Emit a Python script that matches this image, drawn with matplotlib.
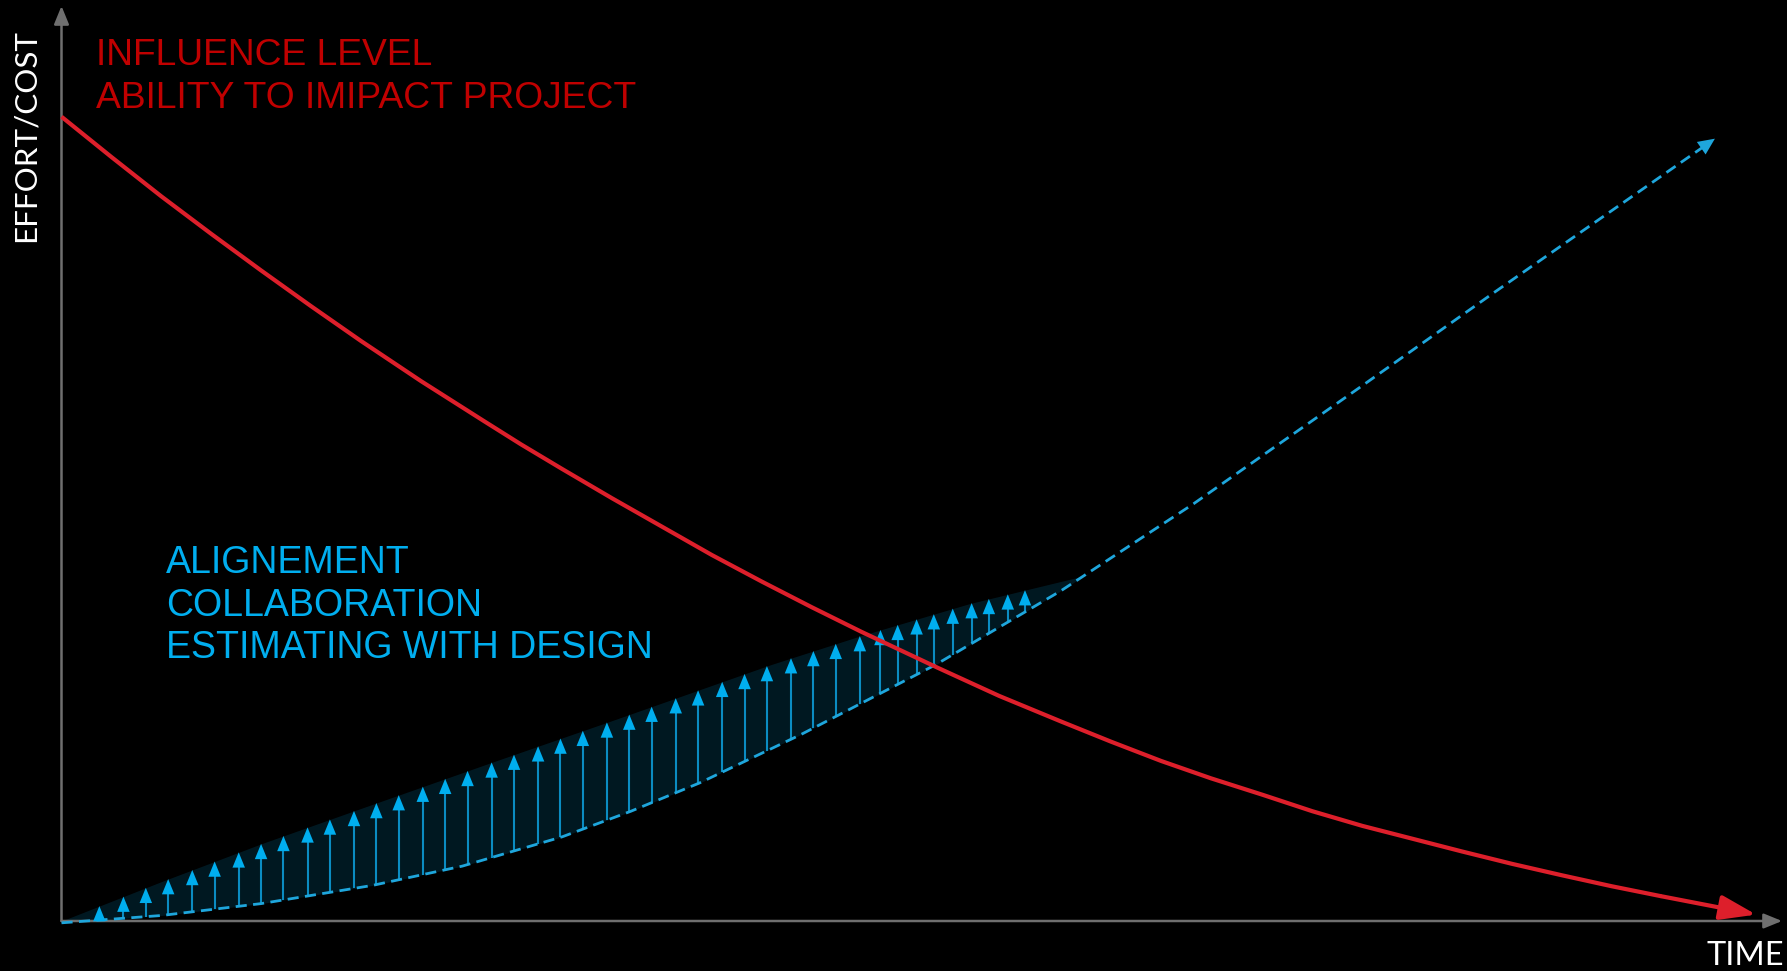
import numpy as np
import matplotlib
matplotlib.use("Agg")
import matplotlib.pyplot as plt

# ---- data (time 0-100, effort/cost 0-100) ----
influence_t = [0.0, 2.9, 5.8, 8.7, 11.6, 14.5, 17.4, 20.9, 24.5, 26.7, 29.1,
               32.0, 34.9, 37.8, 40.7, 43.6, 46.5, 50.9, 54.5, 58.1, 61.0,
               63.9, 66.8, 69.8, 72.7, 75.6, 78.5, 81.4, 84.3, 87.2, 90.1,
               93.0, 98.5]
influence_e = [87.9, 83.5, 79.2, 75.1, 71.1, 67.2, 63.4, 59.0, 54.7, 52.1, 49.4,
               46.2, 43.1, 40.0, 37.1, 34.3, 31.6, 27.7, 24.6, 21.8, 19.6,
               17.5, 15.6, 13.8, 12.0, 10.4, 9.0, 7.6, 6.25, 5.0, 3.8,
               2.7, 0.7]

cost_t = [0.0, 5.8, 11.6, 18.1, 23.3, 29.1, 33.1, 37.1, 43.0, 50.8,
          58.1, 65.8, 75.6, 83.2, 96.1]
cost_e = [-0.2, 0.6, 1.9, 3.9, 6.0, 9.2, 12.0, 15.1, 20.4, 28.0,
          36.1, 45.6, 58.5, 68.6, 85.5]

aligned_t = [0.0, 5.8, 11.7, 17.4, 25.1, 32.0, 41.2, 46.5, 52.8, 59.6]
aligned_e = [0.0, 4.3, 8.5, 12.3, 17.4, 21.9, 28.0, 31.2, 34.7, 37.8]

lift_t = [2.2, 3.6, 4.9, 6.2, 7.6, 8.9, 10.3, 11.6, 12.9, 14.3, 15.6, 17.0,
          18.3, 19.6, 21.0, 22.3, 23.6, 25.0, 26.3, 27.7, 29.0, 30.3, 31.7,
          33.0, 34.3, 35.7, 37.0, 38.4, 39.7, 41.0, 42.4, 43.7, 45.0, 46.4,
          47.6, 48.6, 49.7, 50.7, 51.8, 52.9, 53.9, 55.0, 56.0]

top_lines = ["INFLUENCE LEVEL", "ABILITY TO IMIPACT PROJECT"]
mid_lines = ["ALIGNEMENT", "COLLABORATION", "ESTIMATING WITH DESIGN"]
y_label = "EFFORT/COST"
x_label = "TIME"

# ---- styling ----
BG = "black"
GRAY = "#6f6f6f"
RED = "#dd1f2b"
RED_TXT = "#c00000"
BLUE = "#00aeef"
BLUE_SHAFT = "#0b8cc2"
BLUE_DASH = "#1ea6dc"

W, H = 1787, 971
fig = plt.figure(figsize=(W / 100, H / 100), dpi=100, facecolor=BG)
ax = fig.add_axes([61.5 / W, 50 / H, 1720.5 / W, 915 / H])
ax.set_xlim(0, 100)
ax.set_ylim(0, 100)
ax.axis("off")


def fx(px):
    return px / W


def fy(py):
    return 1 - py / H


# axes with arrow heads
for end in [(100, 0), (0, 100)]:
    ax.annotate("", xy=end, xytext=(0, 0), annotation_clip=False,
                arrowprops=dict(arrowstyle="-|>,head_length=1.1,head_width=0.45",
                                mutation_scale=10, color=GRAY, lw=1.8,
                                shrinkA=0, shrinkB=0), zorder=2)

# shaded band between cost curve and aligned curve
xs = np.linspace(aligned_t[0], aligned_t[-1], 400)
ax.fill_between(xs, np.interp(xs, cost_t, cost_e), np.interp(xs, aligned_t, aligned_e),
                color=BLUE, alpha=0.14, lw=0, zorder=1)

# upward arrows inside the band
base = np.interp(lift_t, cost_t, cost_e)
tip = np.interp(lift_t, aligned_t, aligned_e)
head_len = 14 / 9.15
for t, b, u in zip(lift_t, base, tip):
    top = max(b, u - head_len * 0.7)
    ax.plot([t, t], [b, top], color=BLUE_SHAFT, lw=1.5, solid_capstyle="butt", zorder=3)
    ax.annotate("", xy=(t, u), xytext=(t, u - head_len - 0.2),
                arrowprops=dict(arrowstyle="-|>,head_length=1.1,head_width=0.45",
                                mutation_scale=10, color=BLUE, lw=0,
                                shrinkA=0, shrinkB=0), zorder=4)

# dashed cost curve with a solid head at its end
ax.plot(cost_t[:-1] + [cost_t[-1] - 0.6], cost_e[:-1] + [cost_e[-1] - 0.8],
        color=BLUE_DASH, lw=2.0, linestyle=(0, (4, 2.3)), clip_on=False, zorder=3)
ax.annotate("", xy=(cost_t[-1], cost_e[-1]), xytext=(cost_t[-2], cost_e[-2]),
            arrowprops=dict(arrowstyle="-|>,head_length=1.2,head_width=0.55",
                            mutation_scale=10, color=BLUE_DASH, lw=0,
                            shrinkA=0, shrinkB=0), zorder=3)

# influence curve
ax.plot(influence_t[:-1], influence_e[:-1], color=RED, lw=3.0,
        solid_capstyle="butt", solid_joinstyle="round", clip_on=False, zorder=5)
ax.annotate("", xy=(influence_t[-1], influence_e[-1]),
            xytext=(influence_t[-2], influence_e[-2]), annotation_clip=False,
            arrowprops=dict(arrowstyle="-|>,head_length=2.2,head_width=0.75",
                            mutation_scale=10, color=RED, lw=3.0,
                            shrinkA=0, shrinkB=0), zorder=5)

# labels
sans = ["Liberation Sans", "DejaVu Sans"]
for line, py in zip(top_lines, [65, 108]):
    fig.text(fx(96), fy(py), line, color=RED_TXT, fontsize=26.8, family=sans,
             ha="left", va="baseline")

for line, py in zip(mid_lines, [573, 616, 658]):
    fig.text(fx(166), fy(py), line, color=BLUE, fontsize=27, family=sans,
             ha="left", va="baseline")

fig.text(fx(25.5), fy(136), y_label, color="white", fontsize=22.6, rotation=90,
         family=["Lato", "DejaVu Sans"], ha="center", va="center")
fig.text(fx(1784), fy(965), x_label, color="white", fontsize=23.5,
         family=["Lato", "DejaVu Sans"], ha="right", va="baseline")

fig.savefig("out.png", dpi=100, facecolor=BG)
